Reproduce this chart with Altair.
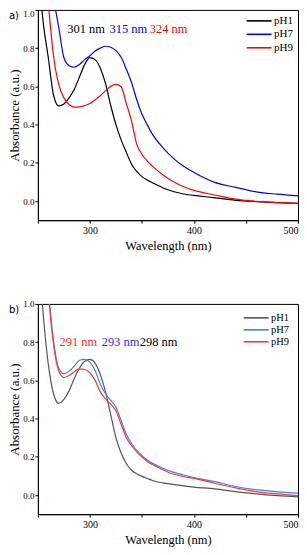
import altair as alt
import pandas as pd

# ---------------- data ----------------
wavelength = [250, 255, 260, 265, 270, 275, 280, 285, 290, 295, 300, 305, 310, 315, 320,
              325, 330, 335, 340, 345, 350, 355, 360, 370, 380, 390, 400, 420, 440, 460,
              480, 500]

a_pH1 = [1.25, 0.94, 0.75, 0.555, 0.498, 0.508, 0.54, 0.585, 0.65, 0.715, 0.75, 0.74, 0.695,
         0.615, 0.50, 0.40, 0.32, 0.255, 0.193, 0.155, 0.128, 0.11, 0.096, 0.07, 0.05, 0.037,
         0.03, 0.017, 0.004, -0.003, -0.008, -0.012]
a_pH7 = [1.6, 1.4, 1.2, 1.06, 0.91, 0.75, 0.708, 0.70, 0.715, 0.74, 0.76, 0.785, 0.80, 0.81,
         0.805, 0.787, 0.752, 0.69, 0.62, 0.53, 0.455, 0.40, 0.35, 0.28, 0.225, 0.182, 0.15,
         0.098, 0.072, 0.048, 0.036, 0.027]
a_pH9 = [1.5, 1.28, 1.03, 0.76, 0.61, 0.54, 0.505, 0.492, 0.493, 0.50, 0.51, 0.53, 0.551,
         0.578, 0.60, 0.61, 0.598, 0.51, 0.42, 0.297, 0.245, 0.21, 0.183, 0.138, 0.102, 0.075,
         0.056, 0.032, 0.01, -0.002, -0.008, -0.012]

b_pH1 = [1.3, 0.95, 0.685, 0.53, 0.48, 0.50, 0.545, 0.61, 0.665, 0.70, 0.71, 0.69, 0.63,
         0.54, 0.42, 0.30, 0.22, 0.165, 0.13, 0.112, 0.098, 0.087, 0.076, 0.064, 0.056,
         0.048, 0.042, 0.032, 0.018, 0.006, -0.003, -0.009]
b_pH7 = [1.8, 1.45, 1.08, 0.81, 0.665, 0.634, 0.648, 0.675, 0.705, 0.71, 0.695, 0.652, 0.58,
         0.53, 0.495, 0.46, 0.39, 0.317, 0.27, 0.234, 0.207, 0.183, 0.167, 0.14, 0.12, 0.105,
         0.092, 0.07, 0.045, 0.028, 0.017, 0.01]
b_pH9 = [1.8, 1.44, 1.06, 0.79, 0.65, 0.615, 0.625, 0.645, 0.66, 0.657, 0.64, 0.60, 0.54,
         0.503, 0.475, 0.44, 0.37, 0.30, 0.258, 0.226, 0.199, 0.177, 0.16, 0.133, 0.11, 0.097,
         0.087, 0.062, 0.038, 0.018, 0.006, -0.003]

series_names = ["pH1", "pH7", "pH9"]
a_colors = ["#000000", "#0000ff", "#ff0000"]
b_colors = ["#555555", "#3c82f0", "#ff3535"]

a_peak_text = ["301 nm", "315 nm", "324 nm"]
a_peak_x = [278.3, 318.9, 357.5]
a_peak_y = [0.898, 0.898, 0.898]
a_peak_colors = ["#000000", "#0000ff", "#ff0000"]

b_peak_text = ["291 nm", "293 nm", "298 nm"]
b_peak_x = [270.8, 311.3, 348.0]
b_peak_y = [0.80, 0.80, 0.80]
b_peak_colors = ["#ff2a2a", "#2a2aff", "#000000"]

x_ticks = [250, 300, 350, 400, 450, 500]
y_ticks = [0.0, 0.1, 0.2, 0.3, 0.4, 0.5, 0.6, 0.7, 0.8, 0.9, 1.0]

SERIF = "Liberation Serif"


def panel(curves, colors, px, py, ptxt, pcol, tag, flush_top, row_pad, leg_offset, leg_font):
    df = pd.DataFrame({
        "Wavelength": wavelength * len(curves),
        "Absorbance": [v for c in curves for v in c],
        "Sample": [n for n in series_names for _ in wavelength],
    })
    x = alt.X("Wavelength:Q",
              scale=alt.Scale(domain=[250, 500], nice=False, zero=False),
              axis=alt.Axis(title="Wavelength (nm)", values=x_ticks,
                            labelExpr="datum.value % 100 == 0 ? datum.label : ''"))
    y = alt.Y("Absorbance:Q",
              scale=alt.Scale(domain=[-0.1, 1.0], nice=False, zero=False),
              axis=alt.Axis(title="Absorbance (a.u.)", values=y_ticks, format=".1f",
                            titleFontSize=13, labelFlush=flush_top,
                            labelExpr="abs(round(datum.value * 10)) % 2 == 0 ? datum.label : ''"))
    lines = alt.Chart(df).mark_line(clip=True, strokeWidth=1.2, interpolate="monotone").encode(
        x=x, y=y,
        color=alt.Color("Sample:N",
                        scale=alt.Scale(domain=series_names, range=colors),
                        legend=alt.Legend(title=None, orient="top-right", offset=leg_offset,
                                          symbolType="M-2.5,0H2.5", symbolSize=100,
                                          symbolStrokeWidth=1.6, labelFont=SERIF,
                                          labelFontSize=leg_font, rowPadding=row_pad,
                                          padding=0, labelOffset=9)),
    )
    layers = [lines]
    for i in range(len(ptxt)):
        tdf = pd.DataFrame({"Wavelength": [px[i]], "Absorbance": [py[i]], "label": [ptxt[i]]})
        layers.append(
            alt.Chart(tdf).mark_text(align="left", baseline="middle", fontSize=12.5,
                                     font=SERIF, color=pcol[i]).encode(
                x="Wavelength:Q", y="Absorbance:Q", text="label:N")
        )
    tag_df = pd.DataFrame({"label": [tag]})
    layers.append(
        alt.Chart(tag_df).mark_text(align="left", baseline="middle", fontSize=10,
                                    font="DejaVu Sans", color="#000000").encode(
            x=alt.value(-29), y=alt.value(6), text="label:N")
    )
    return alt.layer(*layers).properties(width=261, height=211)


top = panel([a_pH1, a_pH7, a_pH9], a_colors, a_peak_x, a_peak_y, a_peak_text, a_peak_colors,
            "a)", True, 2.5, 5, 11)
bottom = panel([b_pH1, b_pH7, b_pH9], b_colors, b_peak_x, b_peak_y, b_peak_text, b_peak_colors,
               "b)", False, 0, 8, 10.5)

chart = alt.vconcat(top, bottom, spacing=84, bounds="flush").resolve_scale(
    color="independent"
).properties(padding=0).configure_axis(
    labelFont=SERIF, labelFontSize=9, titleFont=SERIF, titleFontSize=12.5,
    titleFontWeight="normal", tickSize=3, labelPadding=1, titlePadding=1,
    domainColor="#000000", tickColor="#000000", labelColor="#000000",
    titleColor="#000000", grid=False,
).configure_axisX(labelFontSize=10, labelPadding=2, titlePadding=4).configure_view(
    stroke="#000000", strokeWidth=1
)

chart.save("out.html", embed_options={"renderer": "svg", "actions": False})
